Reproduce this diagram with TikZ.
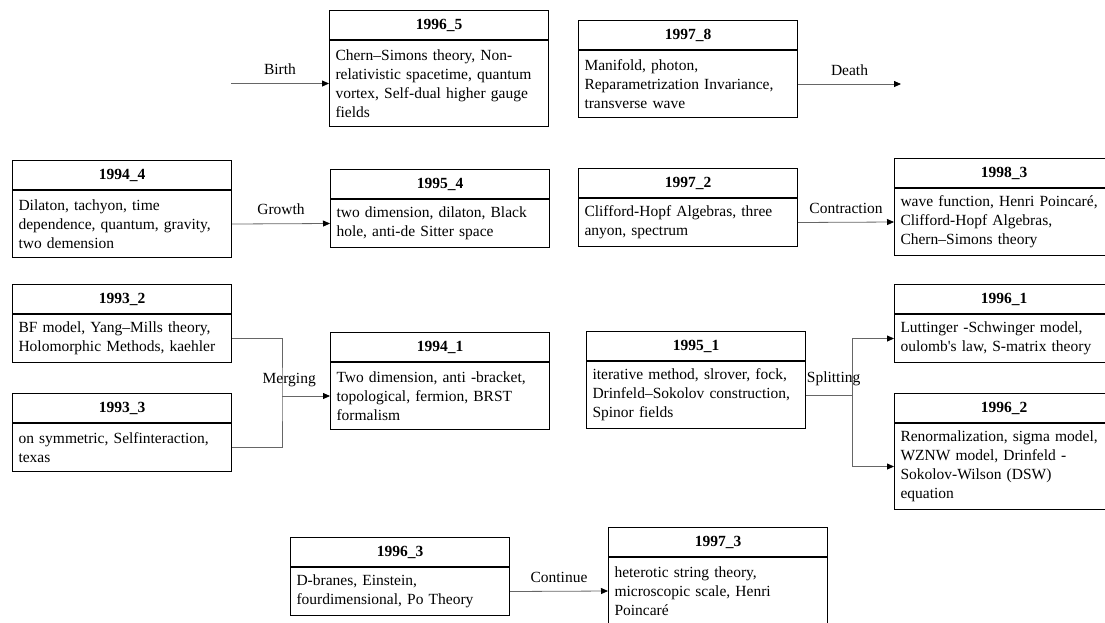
\documentclass[tikz,border=0pt]{standalone}
\usepackage{fontspec}
\setmainfont{Liberation Serif}
\usetikzlibrary{positioning,arrows.meta}

\tikzset{
	head/.style={draw, line width=1pt, minimum width=219pt, minimum height=29pt, inner sep=0pt,
		anchor=north west, font=\fontsize{15.5}{19}\selectfont\bfseries},
	body/.style={draw, line width=1pt, text width=207pt, inner xsep=6pt, inner ysep=3pt,
		align=left, minimum height={19pt*#1+10pt}, font=\fontsize{15.5}{19}\selectfont},
	link/.style={draw=black!60, line width=0.8pt, -{Triangle[length=7pt,width=6pt,black]}},
	lbl/.style={font=\fontsize{15.5}{19}\selectfont, above=5pt}
}

\begin{document}
\begin{tikzpicture}[x=1pt,y=-1pt]
			\useasboundingbox (0,0) rectangle (1105,622);
			% boxes: year / index / x / y / lines / keywords
			\foreach \yr/\k/\px/\py/\n/\txt in {
				1996/5/329/10/4/{Chern–Simons theory, Non-\\relativistic spacetime, quantum\\vortex, Self-dual higher gauge\\fields},
				1997/8/578/20/3/{Manifold, photon,\\Reparametrization Invariance,\\transverse wave},
				1994/4/12/160/3/{Dilaton, tachyon, time\\dependence, quantum, gravity,\\two demension},
				1995/4/330/169/2/{two dimension, dilaton, Black\\hole, anti-de Sitter space},
				1997/2/578/168/2/{Clifford-Hopf Algebras, three\\anyon, spectrum},
				1998/3/894/158/3/{wave function, Henri Poincaré,\\Clifford-Hopf Algebras,\\Chern–Simons theory},
				1993/2/12/284/2/{BF model, Yang–Mills theory,\\Holomorphic Methods, kaehler},
				1993/3/12/393/2/{on symmetric, Selfinteraction,\\texas},
				1994/1/330/332/3/{Two dimension, anti -bracket,\\topological, fermion, BRST\\formalism},
				1995/1/586/331/3/{iterative method, slrover, fock,\\Drinfeld–Sokolov construction,\\Spinor fields},
				1996/1/894/284/2/{Luttinger -Schwinger model,\\oulomb\textquotesingle s law, S-matrix theory},
				1996/2/894/393/4/{Renormalization, sigma model,\\WZNW model, Drinfeld -\\Sokolov-Wilson (DSW)\\equation},
				1996/3/290/537/2/{D-branes, Einstein,\\fourdimensional, Po Theory},
				1997/3/608/527/3/{heterotic string theory,\\microscopic scale, Henri\\Poincaré}
			}{
				\node[head] (h\yr\k) at (\px,\py) {\yr\_\k};
				\node[body=\n, below=0pt of h\yr\k] (b\yr\k) {\txt};
				\draw[line width=1.6pt] (h\yr\k.south west) -- (h\yr\k.south east);
			}
			% birth and death
			\coordinate[left=98pt of b19965.west] (birth);
			\draw[link] (birth) -- node[lbl]{Birth} (b19965.west);
			\coordinate[right=103pt of b19978.east] (death);
			\draw[link] (b19978.east) -- node[lbl]{Death} (death);
			% one to one
			\draw[link] (b19944.east) -- node[lbl]{Growth} (b19954.west);
			\draw[link] (b19972.east) -- node[lbl]{Contraction} (b19983.west);
			\draw[link] (b19963.east) -- node[lbl]{Continue} (b19973.west);
			% merging
			\coordinate[right=50pt of b19932.east] (m0);
			\coordinate (m1) at (m0 |- b19941.west);
			\draw[link,-] (b19932.east) -| (m1) |- (b19933.east);
			\draw[link] (m1) -- node[lbl,pos=0.15]{Merging} (b19941.west);
			% splitting
			\coordinate[right=46pt of b19951.east] (s1);
			\draw[link] (b19951.east) -- node[lbl,pos=0.6]{Splitting} (s1) |- (b19961.west);
			\draw[link] (s1) |- (b19962.west);
		\end{tikzpicture}
\end{document}
